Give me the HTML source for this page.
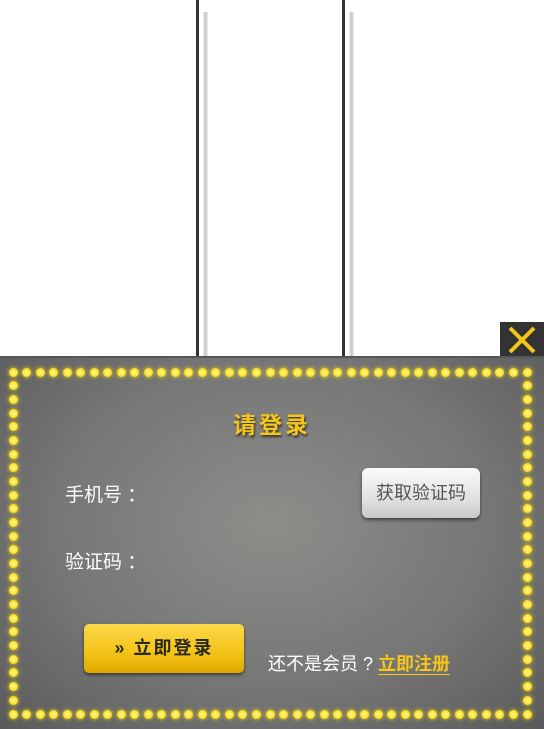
<!DOCTYPE html>
<html><head><meta charset="utf-8"><style>
*{margin:0;padding:0;box-sizing:border-box}
body{width:544px;height:729px;position:relative;overflow:hidden;background:#fff;font-family:"Liberation Sans","Noto Sans CJK SC",sans-serif}
.abs{position:absolute}
.vline{position:absolute;top:0;width:3px;height:356px;background:#333}
.shadow{position:absolute;top:12px;width:5px;height:344px;background:linear-gradient(90deg,#eee,#c4c4c4,#eee)}
#panel{position:absolute;left:0;top:356px;width:544px;height:373px;background:radial-gradient(ellipse at 50% 45%,#8e8d8a 0%,#777 55%,#5a5a5a 100%);border-top:2px solid #555}
.dot{position:absolute;width:9px;height:9px;border-radius:50%;background:radial-gradient(circle,#fff9b0 0%,#ffe83a 45%,#f0c800 100%);box-shadow:0 0 4px #ffe000}
.lbl{position:absolute;color:#fff;font-size:19px}
</style></head><body>
<div class="vline" style="left:196px"></div>
<div class="shadow" style="left:203px"></div>
<div class="vline" style="left:342px"></div>
<div class="shadow" style="left:349px"></div>
<div class="abs" style="left:500px;top:322px;width:44px;height:36px;background:#333">
<svg width="44" height="36"><path d="M10 6 L34 30 M34 6 L10 30" stroke="#f5c518" stroke-width="4"/></svg></div>
<div id="panel"></div>
<div id="dots"></div>
<div class="abs" style="left:0;width:544px;top:406px;text-align:center;color:#f5c518;font-size:23px;font-weight:bold;letter-spacing:3px;text-shadow:1px 2px 2px #333">请登录</div>
<div class="lbl" style="left:65px;top:480px">手机号 ：</div>
<div class="abs" style="left:150px;top:474px;width:200px;height:36px"></div>
<div class="abs" style="left:362px;top:468px;width:118px;height:50px;border-radius:6px;background:linear-gradient(#fafafa,#e2e2e2 60%,#c8c8c8);box-shadow:0 2px 3px rgba(0,0,0,.5);color:#555;font-size:18px;text-align:center;line-height:50px">获取验证码</div>
<div class="lbl" style="left:65px;top:547px">验证码 ：</div>
<div class="abs" style="left:150px;top:541px;width:200px;height:36px"></div>
<div class="abs" style="left:84px;top:624px;width:160px;height:49px;border-radius:5px;background:linear-gradient(#fbd84a,#f4c51a 55%,#e0a800);box-shadow:0 2px 3px rgba(0,0,0,.5);color:#2a2a1a;font-size:18px;font-weight:bold;text-align:center;line-height:49px;letter-spacing:2px">» 立即登录</div>
<div class="abs" style="left:268px;top:650px;color:#fff;font-size:18px;white-space:nowrap">还不是会员 ? <span style="color:#f5c518;font-weight:bold;border-bottom:1px solid #f5c518">立即注册</span></div>
<script>
var c=document.getElementById('dots');
function d(x,y){var e=document.createElement('div');e.className='dot';


e.style.left=(x-4.5)+'px';e.style.top=(y-4.5)+'px';c.appendChild(e);}
var nx=38,x0=13,x1=527,y0=372,y1=714,ny=25;
for(var i=0;i<=nx;i++){var x=x0+(x1-x0)*i/nx;d(x,y0);d(x,y1);}
for(var j=1;j<ny;j++){var y=y0+(y1-y0)*j/ny;d(x0,y);d(x1,y);}
</script>
</body></html>
